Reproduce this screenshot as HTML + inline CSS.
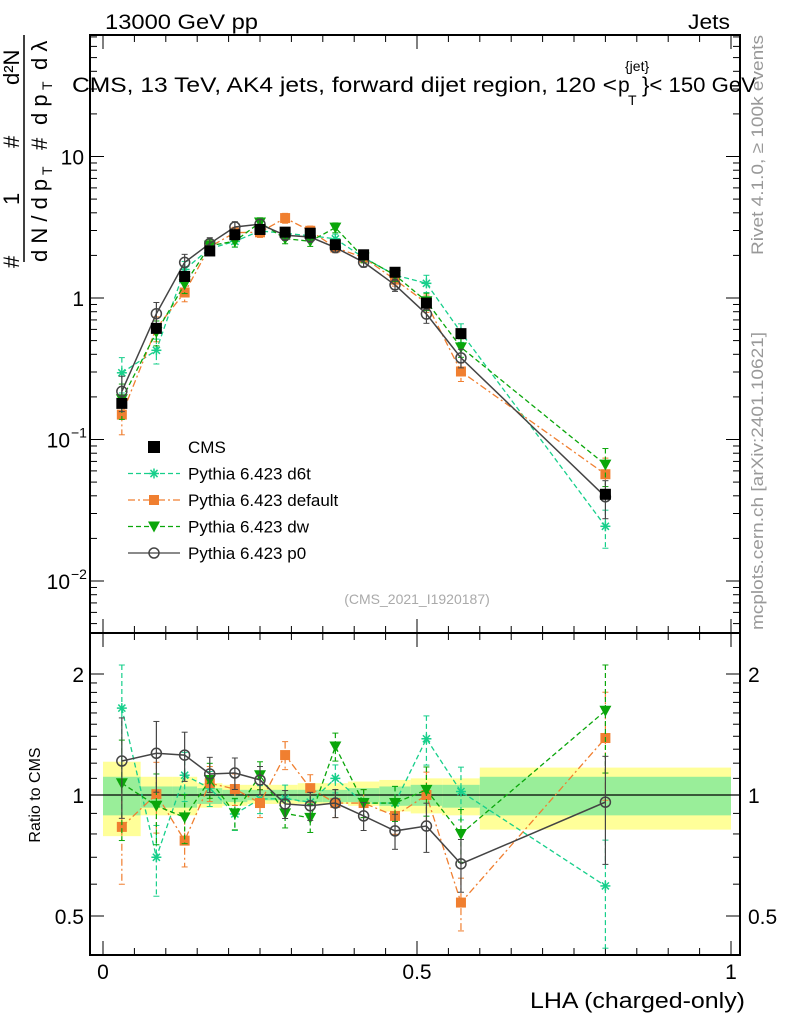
<!DOCTYPE html>
<html><head><meta charset="utf-8"><style>
body{margin:0;background:#fff}
svg text{font-family:"Liberation Sans",sans-serif}
</style></head><body>
<svg id="c" width="786" height="1024" xmlns="http://www.w3.org/2000/svg">
<text x="105" y="29" font-size="21" textLength="153" lengthAdjust="spacingAndGlyphs">13000 GeV pp</text>
<text x="688" y="29" font-size="21" textLength="42" lengthAdjust="spacingAndGlyphs">Jets</text>
<text x="72" y="92" font-size="21" textLength="545" lengthAdjust="spacingAndGlyphs">CMS, 13 TeV, AK4 jets, forward dijet region, 120 &lt;</text>
<text x="618" y="92" font-size="21">p</text>
<text x="625" y="71" font-size="14">{jet}</text>
<text x="628" y="105" font-size="14">T</text>
<text x="642" y="92" font-size="21" textLength="114" lengthAdjust="spacingAndGlyphs">}&lt; 150 GeV</text>
<g font-size="22">
<line x1="24" y1="35" x2="24" y2="262" stroke="#000" stroke-width="1.5"/>
<text transform="translate(19,268) rotate(-90)">#</text>
<text transform="translate(19,205) rotate(-90)">1</text>
<text transform="translate(19,148) rotate(-90)">#</text>
<text transform="translate(19,85) rotate(-90)">d²N</text>
<text transform="translate(47,262) rotate(-90)">d N / d p</text>
<text transform="translate(52,175) rotate(-90)" font-size="14">T</text>
<text transform="translate(47,150) rotate(-90)">#</text>
<text transform="translate(47,125) rotate(-90)">d p</text>
<text transform="translate(52,90) rotate(-90)" font-size="14">T</text>
<text transform="translate(47,70) rotate(-90)">d λ</text>
</g>
<text transform="translate(763,255) rotate(-90)" font-size="17" fill="#999" textLength="220" lengthAdjust="spacingAndGlyphs">Rivet 4.1.0, ≥ 100k events</text>
<text transform="translate(763,630) rotate(-90)" font-size="17" fill="#999" textLength="298" lengthAdjust="spacingAndGlyphs">mcplots.cern.ch [arXiv:2401.10621]</text>
<text x="417" y="604" font-size="14" fill="#aaa" text-anchor="middle">(CMS_2021_I1920187)</text>
<text transform="translate(40,795) rotate(-90)" font-size="16" text-anchor="middle">Ratio to CMS</text>
<text x="530" y="1008" font-size="22" textLength="215" lengthAdjust="spacingAndGlyphs">LHA (charged-only)</text>
<g id="g"></g>
</svg>
<script>
const xCenters=[0.03,0.085,0.13,0.17,0.21,0.25,0.29,0.33,0.37,0.415,0.465,0.515,0.57,0.8];
const binEdges=[0,0.06,0.11,0.15,0.19,0.23,0.27,0.31,0.35,0.39,0.44,0.49,0.54,0.6,1.0];
const cmsValues=[0.18,0.61,1.42,2.15,2.8,3.05,2.92,2.87,2.38,2.02,1.52,0.92,0.56,0.041];
const ratioD6t=[1.645,0.70,1.12,1.04,0.897,0.977,0.98,0.96,1.10,0.955,0.955,1.38,1.02,0.594];
const ratioDefault=[0.833,1.005,0.77,1.07,1.035,0.955,1.257,1.04,0.955,0.955,0.887,1.0,0.54,1.386];
const ratioDw=[1.07,0.94,0.88,1.09,0.9,1.12,0.9,0.877,1.32,0.955,0.955,1.03,0.8,1.62];
const ratioP0=[1.215,1.27,1.257,1.128,1.134,1.09,0.95,0.94,0.955,0.887,0.814,0.837,0.674,0.96];
const relErrMC=[0.28,0.2,0.14,0.1,0.09,0.08,0.08,0.08,0.08,0.08,0.1,0.14,0.15,0.3];
const yellowUp=[1.21,1.11,1.11,1.07,1.06,1.06,1.06,1.07,1.07,1.08,1.09,1.1,1.1,1.17];
const yellowDn=[0.79,0.89,0.89,0.93,0.94,0.95,0.95,0.95,0.95,0.94,0.91,0.9,0.89,0.82];
const greenUp=[1.11,1.05,1.05,1.04,1.03,1.03,1.03,1.03,1.03,1.04,1.05,1.06,1.06,1.11];
const greenDn=[0.89,0.93,0.93,0.95,0.96,0.97,0.97,0.96,0.96,0.96,0.94,0.94,0.93,0.89];

const NS='http://www.w3.org/2000/svg';
const g=document.getElementById('g');
const L=90,R=740,T=35,MB=633,RB=955;
const X=v=>103+v*628;
const Y=v=>298-Math.log10(v)*141.5;
const RY=v=>795-Math.log2(v)*121;
function el(t,a,p){const e=document.createElementNS(NS,t);for(const k in a)e.setAttribute(k,a[k]);(p||g).appendChild(e);return e;}
for(let i=0;i<binEdges.length-1;i++){
 const y=el('rect',{x:X(binEdges[i]),y:RY(yellowUp[i]),width:X(binEdges[i+1])-X(binEdges[i]),height:RY(yellowDn[i])-RY(yellowUp[i]),fill:'#ffff99'});
 
 
 const gr=el('rect',{x:X(binEdges[i]),y:RY(greenUp[i]),width:X(binEdges[i+1])-X(binEdges[i]),height:RY(greenDn[i])-RY(greenUp[i]),fill:'#99ee99'});
 
 
}
const ul=el('line',{x1:L,x2:R,y1:RY(1),y2:RY(1),stroke:'#000','stroke-width':1.3});


const f1=el('rect',{x:L,y:T,width:R-L,height:MB-T,fill:'none',stroke:'#000','stroke-width':2});


const f2=el('rect',{x:L,y:MB,width:R-L,height:RB-MB,fill:'none',stroke:'#000','stroke-width':2});


for(let k=0;k<=20;k++){const v=k*0.05;const big=k%10==0;const len=big?14:7;
 for(const [yb,yt] of [[MB,T],[RB,MB]]){el('line',{x1:X(v),x2:X(v),y1:yb,y2:yb-len,stroke:'#000'});el('line',{x1:X(v),x2:X(v),y1:yt,y2:yt+len,stroke:'#000'});}
}
const xTickVals=[0,0.5,1],xTickLabels=['0','0.5','1'];
xTickVals.forEach((v,i)=>{const t=el('text',{x:X(v),y:979,'font-size':21,'text-anchor':'middle'});t.textContent=xTickLabels[i];

});
for(let d=-3;d<=1;d++)for(let m=1;m<=9;m++){const v=m*Math.pow(10,d);const y=Y(v);if(y<T||y>MB)continue;const len=m==1?14:7;
 el('line',{x1:L,x2:L+len,y1:y,y2:y,stroke:'#000'});el('line',{x1:R,x2:R-len,y1:y,y2:y,stroke:'#000'});}
const yTickVals=[10,1,0.1,0.01],yTickLabels=['10','1','10','10'],yTickExp=['','','−1','−2'];
yTickVals.forEach((v,i)=>{const t=el('text',{x:yTickExp[i]?70:84,y:Y(v)+8,'font-size':21,'text-anchor':'end'});t.textContent=yTickLabels[i];


if(yTickExp[i]){const s=el('text',{x:71,y:Y(v)-2,'font-size':14});s.textContent=yTickExp[i];

}});
const rMinor=[0.4,0.5,0.6,0.7,0.8,0.9,1,1.1,1.2,1.3,1.4,1.5,1.6,1.7,1.8,1.9,2];
rMinor.forEach(v=>{const big=(v==0.5||v==1||v==2);const len=big?14:7;const y=RY(v);el('line',{x1:L,x2:L+len,y1:y,y2:y,stroke:'#000'});el('line',{x1:R,x2:R-len,y1:y,y2:y,stroke:'#000'});});
const rTickVals=[2,1,0.5],rTickLabels=['2','1','0.5'];
rTickVals.forEach((v,i)=>{for(const [x,a] of [[84,'end'],[748,'start']]){const t=el('text',{x:x,y:RY(v)+8,'font-size':21,'text-anchor':a});t.textContent=rTickLabels[i];

}});
const series=[
 {n:'d6t',r:ratioD6t,c:'#17cf8b',dash:'5,3',m:'star',lab:'Pythia 6.423 d6t'},
 {n:'default',r:ratioDefault,c:'#f07f30',dash:'7,3,2,3',m:'square',lab:'Pythia 6.423 default'},
 {n:'dw',r:ratioDw,c:'#0aa60a',dash:'5,3',m:'tri',lab:'Pythia 6.423 dw'},
 {n:'p0',r:ratioP0,c:'#444',dash:'',m:'circle',lab:'Pythia 6.423 p0'}];
function marker(m,x,y,c,p){
 if(m=='square')return el('rect',{x:x-5,y:y-5,width:10,height:10,fill:c},p);
 if(m=='circle')return el('circle',{cx:x,cy:y,r:5,fill:'#fff','fill-opacity':0,stroke:c,'stroke-width':1.5},p);
 if(m=='tri')return el('path',{d:`M${x-6},${y-5}L${x+6},${y-5}L${x},${y+6}Z`,fill:c},p);
 const gg=el('g',{stroke:c,'stroke-width':1.5},p);
 for(let a=0;a<4;a++){const t=a*Math.PI/4;el('line',{x1:x-5*Math.cos(t),y1:y-5*Math.sin(t),x2:x+5*Math.cos(t),y2:y+5*Math.sin(t)},gg);}return gg;}
series.forEach(s=>{
 const grp=el('g',{});
 
 
 const mv=cmsValues.map((v,i)=>v*s.r[i]);
 const sw=s.n=='p0'?1.5:1.3;
 el('polyline',{points:xCenters.map((x,i)=>X(x)+','+Y(mv[i])).join(' '),fill:'none',stroke:s.c,'stroke-width':sw,'stroke-dasharray':s.dash},grp);
 el('polyline',{points:xCenters.map((x,i)=>X(x)+','+RY(s.r[i])).join(' '),fill:'none',stroke:s.c,'stroke-width':sw,'stroke-dasharray':s.dash},grp);
 xCenters.forEach((x,i)=>{
  const e=relErrMC[i];
  for(const [fn,v] of [[Y,mv[i]],[RY,s.r[i]]]){
   const y1=fn(v*(1+e)),y2=fn(Math.max(v*(1-e),1e-4));
   el('line',{x1:X(x),x2:X(x),y1:y1,y2:y2,stroke:s.c,'stroke-width':1.2,'stroke-dasharray':s.dash},grp);
   el('line',{x1:X(x)-3,x2:X(x)+3,y1:y1,y2:y1,stroke:s.c},grp);
   el('line',{x1:X(x)-3,x2:X(x)+3,y1:y2,y2:y2,stroke:s.c},grp);
   const mk=marker(s.m,X(x),fn(v),s.c,grp);
   
   
  }
 });
});
const cg=el('g',{});


xCenters.forEach((x,i)=>{const y=Y(cmsValues[i]);
 const r=el('rect',{x:X(x)-5.5,y:y-5.5,width:11,height:11,fill:'#000'},cg);
 
 });
const lg=el('g',{});


const ents=[{m:'cms',c:'#000',lab:'CMS',dash:''}].concat(series);
ents.forEach((s,i)=>{const y=447+i*26.5;
 const eg=el('g',{},lg);
 
 
 if(s.m=='cms'){el('rect',{x:148,y:y-6,width:12,height:12,fill:'#000'},eg);}
 else{el('line',{x1:128,x2:180,y1:y,y2:y,stroke:s.c,'stroke-width':1.3,'stroke-dasharray':s.dash},eg);marker(s.m,154,y,s.c,eg);}
 const t=el('text',{x:188,y:y+6,'font-size':17},eg);t.textContent=s.lab;});
</script>
</body></html>
